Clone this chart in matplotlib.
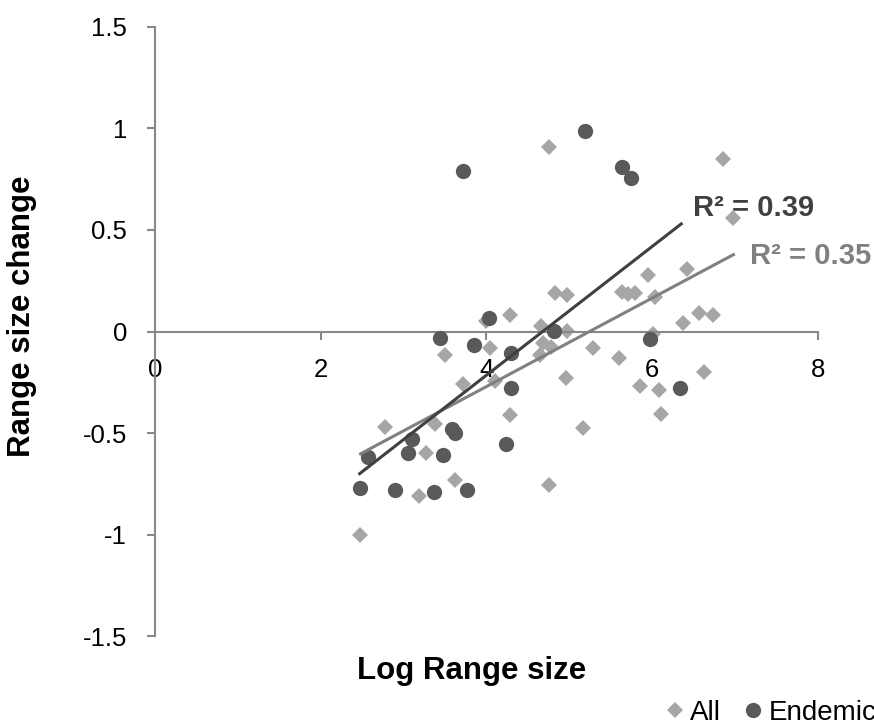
import matplotlib
matplotlib.use("Agg")
from matplotlib import pyplot as plt
from matplotlib.lines import Line2D

plt.rcParams['font.family'] = ['Liberation Sans', 'DejaVu Sans']

# All species (diamonds)
all_x = [2.48, 2.77, 3.18, 3.27, 3.38, 3.50, 3.62, 3.72, 4.00, 4.04, 4.10, 4.28,
         4.28, 4.64, 4.66, 4.68, 4.75, 4.76, 4.78, 4.83, 4.96, 4.97, 4.97, 5.17,
         5.29, 5.60, 5.63, 5.71, 5.79, 5.85, 5.95, 6.01, 6.03, 6.08, 6.10, 6.37,
         6.42, 6.57, 6.62, 6.73, 6.86, 6.97]
all_y = [-1.00, -0.47, -0.81, -0.60, -0.456, -0.115, -0.73, -0.26, 0.05, -0.082, -0.246, 0.079,
         -0.41, -0.115, 0.025, -0.058, 0.91, -0.755, -0.074, 0.19, -0.227, 0.18, 0.003, -0.476,
         -0.082, -0.128, 0.197, 0.184, 0.19, -0.267, 0.28, -0.01, 0.17, -0.29, -0.405, 0.044,
         0.31, 0.09, -0.197, 0.082, 0.85, 0.56]

# Endemic species (circles)
end_x = [2.48, 2.57, 2.90, 3.05, 3.10, 3.37, 3.44, 3.47, 3.59, 3.62, 3.72, 3.77,
         3.85, 4.03, 4.23, 4.30, 4.30, 4.82, 5.19, 5.63, 5.74, 5.97, 6.33]
end_y = [-0.77, -0.62, -0.78, -0.60, -0.53, -0.79, -0.033, -0.61, -0.48, -0.50, 0.79, -0.78,
         -0.066, 0.065, -0.555, -0.107, -0.276, 0.003, 0.987, 0.81, 0.755, -0.036, -0.28]

# linear trendlines: slope, intercept, x range
all_fit = (0.218, -1.143, 2.48, 6.98)
end_fit = (0.317, -1.483, 2.47, 6.35)

fig = plt.figure(figsize=(8.74, 7.27), dpi=100)
ax = fig.add_axes([0.1773, 0.125, 0.7586, 0.838])

light = '#a6a6a6'
dark = '#595959'

ax.plot(all_x, all_y, 'D', color=light, markersize=8.5, markeredgewidth=0, zorder=2)
ax.plot(end_x, end_y, 'o', color=dark, markersize=11, markeredgewidth=0, zorder=3)

s, b, x0, x1 = all_fit
ax.plot([x0, x1], [s * x0 + b, s * x1 + b], color='#808080', lw=2.2, zorder=4)
s, b, x0, x1 = end_fit
ax.plot([x0, x1], [s * x0 + b, s * x1 + b], color='#404040', lw=2.2, zorder=5)

ax.text(6.49, 0.567, 'R² = 0.39', color='#404040', fontsize=21, fontweight='bold',
        va='baseline', ha='left', clip_on=False)
ax.text(7.18, 0.330, 'R² = 0.35', color='#808080', fontsize=21, fontweight='bold',
        va='baseline', ha='left', clip_on=False)

ax.set_xlim(0, 8)
ax.set_ylim(-1.5, 1.5)
ax.set_xticks([0, 2, 4, 6, 8])
ax.set_yticks([-1.5, -1, -0.5, 0, 0.5, 1, 1.5])
ax.set_yticklabels(['-1.5', '-1', '-0.5', '0', '0.5', '1', '1.5'])

spine_c = '#888888'
ax.spines['top'].set_visible(False)
ax.spines['right'].set_visible(False)
ax.spines['bottom'].set_position(('data', 0))
ax.spines['bottom'].set_color(spine_c)
ax.spines['left'].set_color(spine_c)
ax.spines['bottom'].set_linewidth(1.5)
ax.spines['left'].set_linewidth(1.5)
ax.tick_params(axis='both', colors=spine_c, labelcolor='black', labelsize=18.5,
               length=6, width=1.5, direction='out')
ax.tick_params(axis='x', pad=13)
ax.tick_params(axis='y', pad=14)

fig.text(22.5 / 874, 1 - 316.5 / 727, 'Range size change', rotation=90, fontsize=22.5,
         fontweight='bold', ha='center', va='center')
fig.text(472 / 874, 1 - 679 / 727, 'Log Range size', fontsize=22.5,
         fontweight='bold', ha='center', va='baseline')

handles = [Line2D([], [], marker='D', ls='none', color=light, markersize=8, markeredgewidth=0),
           Line2D([], [], marker='o', ls='none', color=dark, markersize=11, markeredgewidth=0)]
fig.legend(handles, ['All', 'Endemic'], loc='center left', ncol=2, frameon=False,
           bbox_to_anchor=(663 / 874, 1 - 713 / 727), fontsize=20,
           handlelength=0.88, handletextpad=0.1, columnspacing=0.72,
           borderpad=0, borderaxespad=0)

fig.savefig('out.png', dpi=100)
